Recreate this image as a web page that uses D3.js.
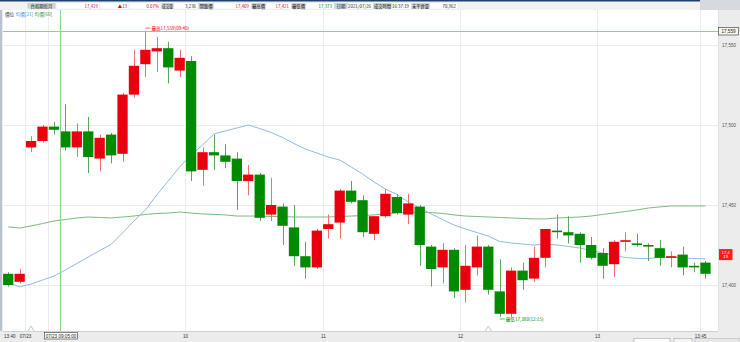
<!DOCTYPE html>
<html><head><meta charset="utf-8">
<script src="https://cdn.jsdelivr.net/npm/d3@7"></script>
<style>
body{margin:0;background:#fff;}
svg{display:block;font-family:"Noto Sans CJK TC","Noto Sans",sans-serif;}
</style>
</head><body>
<svg id="c" width="740" height="342"></svg>
<script>
// ---------- data ----------
const times = ["07/22 13:40","07/22 13:45",
"07/23 08:50","07/23 08:55",
"07/23 09:00","07/23 09:05","07/23 09:10","07/23 09:15","07/23 09:20","07/23 09:25","07/23 09:30","07/23 09:35","07/23 09:40","07/23 09:45","07/23 09:50","07/23 09:55",
"07/23 10:00","07/23 10:05","07/23 10:10","07/23 10:15","07/23 10:20","07/23 10:25","07/23 10:30","07/23 10:35","07/23 10:40","07/23 10:45","07/23 10:50","07/23 10:55",
"07/23 11:00","07/23 11:05","07/23 11:10","07/23 11:15","07/23 11:20","07/23 11:25","07/23 11:30","07/23 11:35","07/23 11:40","07/23 11:45","07/23 11:50","07/23 11:55",
"07/23 12:00","07/23 12:05","07/23 12:10","07/23 12:15","07/23 12:20","07/23 12:25","07/23 12:30","07/23 12:35","07/23 12:40","07/23 12:45","07/23 12:50","07/23 12:55",
"07/23 13:00","07/23 13:05","07/23 13:10","07/23 13:15","07/23 13:20","07/23 13:25","07/23 13:30","07/23 13:35","07/23 13:40","07/23 13:45"];
const open = [17407,17402,17486,17490,17499,17496,17486,17496,17479,17494,17482,17519,17538,17546,17548,17534,17540,17472,17483,17481,17479,17465,17469,17444,17449,17436,17418,17411,17435,17439,17459,17453,17432,17443,17455,17444,17449,17424,17411,17422,17397,17411,17424,17396,17382,17409,17404,17417,17434,17433,17432,17425,17420,17413,17427,17426,17425,17423,17417,17419,17412,17414];
const high = [17408,17410,17493,17500,17502,17513,17501,17505,17494,17495,17520,17547,17559,17555,17552,17547,17543,17486,17494,17488,17483,17475,17470,17467,17451,17450,17427,17435,17444,17460,17465,17456,17443,17460,17457,17457,17450,17425,17426,17423,17425,17431,17425,17416,17411,17414,17424,17435,17444,17443,17433,17430,17423,17428,17433,17432,17426,17428,17421,17424,17414,17415];
const low = [17399,17401,17483,17489,17494,17484,17480,17470,17471,17476,17477,17517,17530,17533,17526,17530,17465,17462,17472,17473,17447,17456,17440,17440,17425,17412,17404,17410,17429,17429,17451,17430,17428,17442,17444,17438,17412,17399,17401,17392,17389,17406,17394,17380,17380,17397,17402,17411,17429,17426,17414,17416,17404,17405,17421,17424,17415,17412,17411,17406,17408,17404];
const close = [17400,17407,17490,17499,17497,17486,17496,17480,17492,17481,17519,17537,17547,17548,17536,17542,17471,17483,17481,17477,17465,17469,17442,17450,17437,17418,17411,17434,17438,17459,17452,17433,17443,17457,17445,17451,17425,17410,17422,17396,17412,17424,17397,17382,17409,17403,17417,17435,17433,17431,17425,17417,17412,17427,17428,17425,17424,17417,17418,17411,17411,17407];
const ma21 = [17401.3,17398.8,17400.6,17403.1,17405.6,17409.4,17413.4,17417.5,17421.5,17425.3,17432.5,17440.0,17446.9,17456.3,17465.0,17473.8,17481.3,17487.5,17494.4,17496.3,17498.1,17500.0,17497.8,17495.3,17492.2,17488.4,17485.0,17482.5,17480.0,17478.1,17473.8,17469.4,17464.4,17460.0,17456.6,17451.9,17448.1,17444.4,17440.9,17437.5,17435.0,17432.8,17430.6,17427.2,17426.3,17425.6,17425.0,17425.6,17425.0,17424.1,17423.1,17421.6,17420.0,17418.4,17417.2,17416.6,17416.6,17417.2,17417.5,17416.9,17416.6,17416.3];
const ma60 = [17436.3,17435.6,17436.9,17438.4,17440.0,17440.9,17441.9,17442.5,17442.2,17441.9,17442.5,17443.1,17444.1,17444.7,17445.0,17445.6,17445.0,17444.4,17444.1,17443.8,17443.1,17443.1,17443.1,17442.8,17442.8,17442.5,17442.5,17442.5,17442.5,17442.8,17443.1,17443.4,17443.8,17444.4,17445.0,17445.3,17445.6,17445.3,17444.7,17443.8,17443.1,17442.8,17442.5,17442.2,17441.9,17441.6,17441.3,17441.3,17441.9,17442.2,17442.5,17443.1,17444.1,17445.0,17445.9,17446.9,17448.1,17448.8,17449.4,17449.4,17449.4,17449.4];
const yTicks = [17400,17450,17500,17550];
const gridTimes = ["07/23 08:50","07/23 09:00","07/23 10:00","07/23 11:00","07/23 12:00","07/23 13:00","07/23 13:45"];
const xTickTimes = ["07/22 13:40","07/23 08:50","07/23 10:00","07/23 11:00","07/23 12:00","07/23 13:00","07/23 13:45"];
const xTickLabels = ["13:40","07/23","10","11","12","13","13:45"];
const markTimes = ["07/23 08:50","07/23 12:10"];
const crossTime = "07/23 09:05", crossLabel = "07/23 09:05:00", crossPrice = 17559;
const highTime = "07/23 09:40", highPrice = 17559, highLabel = "最高17,559(09:40)";
const lowTime = "07/23 12:15", lowPrice = 17380, lowLabel = "最低17,380(12:15)";
const lastPrice = 17419;
const legendNames = ["價位","均價[21]","均價[60]"];
const headerLabels = ["台指期近月","成交量","開盤價","最高價","最低價","日期","成交時間","未平倉量"];
const headerValues = ["17,419","▲13","0.07%","3,236","17,409","17,421","17,373","2021/07/26","16:37:19","70,962"];

// ---------- styles ----------
const RED = "#e8000e", GREEN = "#008a00";
const svg = d3.select("#c");
const PL = 3, PR = 718, PT = 10, PB = 331;

// background
svg.append("rect").attr("width",740).attr("height",342).attr("fill","#ececec");
svg.append("rect").attr("x",PL).attr("y",PT).attr("width",PR-PL).attr("height",PB-PT).attr("fill","#fff");
svg.append("rect").attr("x",0).attr("y",PT).attr("width",2).attr("height",PB-PT).attr("fill","#b8c4d0");
svg.append("line").attr("x1",PL).attr("x2",PR).attr("y1",PB+0.5).attr("y2",PB+0.5).attr("stroke","#d0d0d0");
svg.append("line").attr("x1",PR+0.5).attr("x2",PR+0.5).attr("y1",PT).attr("y2",PB).attr("stroke","#e0e0e0");

// header
svg.append("rect").attr("x",0).attr("y",0).attr("width",740).attr("height",PT).attr("fill","#f2f2f2");
svg.append("rect").attr("x",0).attr("y",0).attr("width",700).attr("height",1.5).attr("fill","#1d4170");
svg.append("rect").attr("x",700).attr("y",0).attr("width",40).attr("height",PT).attr("fill","#d6d9dd");
const labelCells = [[27,56],[161,174],[198,214],[251,266],[291,306],[334,348],[373,392],[411,430]];
const valueCells = [[56,100],[100,129],[129,161],[174,198],[214,251],[266,291],[306,334],[348,373],[392,411],[430,458]];
const valueColors = [RED,RED,RED,"#222",RED,RED,GREEN,"#222","#222","#222"];
const hg = svg.append("g").style("font-size","4.4px");
headerLabels.forEach((t,i)=>{
  const [a,b]=labelCells[i];
  hg.append("rect").attr("x",a).attr("y",2.5).attr("width",b-a).attr("height",6.5).attr("fill","#cfd3d8").attr("stroke","#fff").attr("stroke-width",0.5);
  const tx = hg.append("text").attr("x",(a+b)/2).attr("y",7.5).attr("text-anchor","middle").attr("fill","#111").text(t);
  if (tx.node().getComputedTextLength() > b-a-2) tx.attr("textLength",b-a-2).attr("lengthAdjust","spacingAndGlyphs");
});
headerValues.forEach((t,i)=>{
  const [a,b]=valueCells[i];
  hg.append("rect").attr("x",a).attr("y",2.5).attr("width",b-a).attr("height",6.5).attr("fill","#fff").attr("stroke","#e4e4e4").attr("stroke-width",0.5);
  const tx = hg.append("text").attr("x",b-2).attr("y",7.5).attr("text-anchor","end").attr("fill",valueColors[i]).text(t);
  if (tx.node().getComputedTextLength() > b-a-2) tx.attr("textLength",b-a-2).attr("lengthAdjust","spacingAndGlyphs");
});

// scales
const x = d3.scaleBand().domain(times).range([2.5, 711.2]).paddingInner(0.1).paddingOuter(0.05);
const y = d3.scaleLinear().domain([17400,17550]).range([285,45]);
const bw = x.bandwidth(), step = x.step();
const cx = t => x(t) + bw/2;
const edge = t => Math.round(x(t) - step*0.05) + 0.5;

// grid
svg.append("g").selectAll("line").data(yTicks).join("line")
  .attr("x1",PL).attr("x2",PR).attr("y1",d=>Math.round(y(d))+0.5).attr("y2",d=>Math.round(y(d))+0.5)
  .attr("stroke","#ececec");
svg.append("g").selectAll("line").data(gridTimes).join("line")
  .attr("x1",edge).attr("x2",edge).attr("y1",PT).attr("y2",PB).attr("stroke","#ececec");

// right axis
const ya = svg.append("g").attr("transform",`translate(${PR+3},0)`)
  .call(d3.axisRight(y).tickValues(yTicks).tickSize(0).tickPadding(1).tickFormat(d3.format(",")));
ya.select(".domain").remove();
ya.selectAll("text").style("font-size","4.6px").attr("fill","#555").style("font-family","'Liberation Sans',sans-serif");

// moving averages
const line = d3.line().x((d,i)=>cx(times[i])).y(d=>y(d));
svg.append("path").datum(ma60).attr("d",line).attr("fill","none").attr("stroke","#7dbb7d").attr("stroke-width",1);
svg.append("path").datum(ma21).attr("d",line).attr("fill","none").attr("stroke","#8fbbe6").attr("stroke-width",1);

// candles
const cg = svg.append("g");
times.forEach((t,i)=>{
  const up = close[i] >= open[i];
  const col = up ? RED : GREEN;
  const xc = Math.round(cx(t)) + 0.5;
  cg.append("line").attr("x1",xc).attr("x2",xc).attr("y1",y(high[i])).attr("y2",y(low[i]))
    .attr("stroke", up ? "#f07070" : "#5aa85a").attr("stroke-width",1);
  const top = y(Math.max(open[i],close[i])), bot = y(Math.min(open[i],close[i]));
  cg.append("rect").attr("x",x(t)).attr("width",bw).attr("y",top).attr("height",Math.max(1.2,bot-top)).attr("fill",col);
});

// crosshair
const chx = Math.round(x(crossTime) - step*0.05) + 0.5;
svg.append("line").attr("x1",chx).attr("x2",chx).attr("y1",PT).attr("y2",PB).attr("stroke","#8fd08f");
const chy = Math.round(y(crossPrice)) + 0.5;
svg.append("line").attr("x1",PL).attr("x2",PR).attr("y1",chy).attr("y2",chy).attr("stroke","#8fd08f");
svg.append("rect").attr("x",PR+0.5).attr("y",chy-4).attr("width",20).attr("height",7.5).attr("fill","#f6f6ee").attr("stroke","#333").attr("stroke-width",0.6);
svg.append("text").attr("x",PR+10.5).attr("y",chy+1.6).attr("text-anchor","middle").style("font-size","4.6px").attr("fill","#222").style("font-family","'Liberation Sans',sans-serif").text(d3.format(",")(crossPrice));

// last price tag
const ly = y(lastPrice);
svg.append("rect").attr("x",PR+1).attr("y",ly-5.5).attr("width",13.5).attr("height",11).attr("fill","#ff1a1a");
svg.append("text").attr("x",PR+7.7).attr("y",ly-0.8).attr("text-anchor","middle").style("font-size","4.2px").attr("fill","#fff").style("font-family","'Liberation Sans',sans-serif").text("17,4");
svg.append("text").attr("x",PR+7.7).attr("y",ly+3.6).attr("text-anchor","middle").style("font-size","4.2px").attr("fill","#fff").style("font-family","'Liberation Sans',sans-serif").text("19");

// high / low annotations
const hx = cx(highTime), hy = y(highPrice) - 2.5;
svg.append("line").attr("x1",hx).attr("x2",hx+5).attr("y1",hy).attr("y2",hy).attr("stroke",RED).attr("stroke-width",0.6);
svg.append("text").attr("x",hx+6).attr("y",hy+1.6).style("font-size","4.6px").attr("fill",RED).text(highLabel);
const lx = cx(lowTime), lyy = y(lowPrice) + 2;
svg.append("line").attr("x1",lx).attr("x2",lx+5).attr("y1",lyy).attr("y2",lyy).attr("stroke",GREEN).attr("stroke-width",0.6);
svg.append("text").attr("x",lx+6).attr("y",lyy+1.6).style("font-size","4.6px").attr("fill",GREEN).text(lowLabel);

// legend
const legColors = ["#333","#3a8ee0","#2f9a2f"];
let lxp = 5;
const lg = svg.append("g").style("font-size","4.6px");
legendNames.forEach((n,i)=>{
  const t = lg.append("text").attr("x",lxp).attr("y",16.2).attr("fill",legColors[i]).text(n);
  lxp += t.node().getComputedTextLength() + 1.5;
});

// event markers
svg.append("g").selectAll("path").data(markTimes).join("path")
  .attr("d",d=>{const c=cx(d); return `M${c-3},331 L${c},326 L${c+3},331`;})
  .attr("fill","none").attr("stroke","#9ab4cc").attr("stroke-width",0.7);

// x axis labels
const xl = svg.append("g").style("font-size","4.6px").style("font-family","'Liberation Sans',sans-serif");
xTickTimes.forEach((t,i)=>{
  const px = i===0 ? 4 : edge(t);
  xl.append("text").attr("x",px).attr("y",337.5).attr("text-anchor", i===0 ? "start":"middle").attr("fill","#333").text(xTickLabels[i]);
});
// crosshair time box
svg.append("rect").attr("x",44.5).attr("y",332.5).attr("width",33).attr("height",6.5).attr("fill","#fff").attr("stroke","#333").attr("stroke-width",0.6);
svg.append("text").attr("x",61).attr("y",337.6).attr("text-anchor","middle").style("font-size","4.6px").style("font-family","'Liberation Sans',sans-serif").attr("fill","#222").text(crossLabel);
// small scroll controls bottom right
svg.append("rect").attr("x",634).attr("y",338.5).attr("width",36).attr("height",4).attr("fill","#fff").attr("stroke","#999").attr("stroke-width",0.5);
svg.append("rect").attr("x",674).attr("y",338.5).attr("width",18).attr("height",4).attr("fill","#f4f4f4").attr("stroke","#999").attr("stroke-width",0.5);
svg.append("rect").attr("x",695).attr("y",338.5).attr("width",44).attr("height",4).attr("fill","#e8e8e8").attr("stroke","#aaa").attr("stroke-width",0.5);
</script>
</body></html>
